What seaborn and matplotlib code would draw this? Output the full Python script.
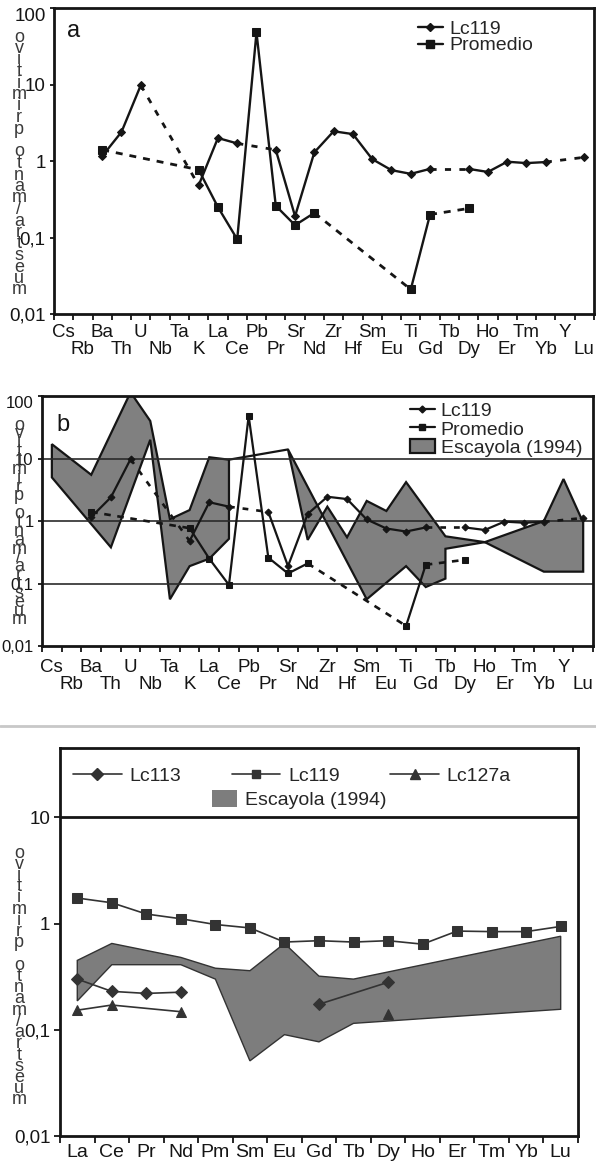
import numpy as np
import matplotlib
matplotlib.use('Agg')
import matplotlib.pyplot as plt
import seaborn as sns
from matplotlib.lines import Line2D
from matplotlib.patches import Patch
from matplotlib.ticker import NullLocator

nan = np.nan

# multielement diagram (a, b), normalised to primitive mantle
elements = ['Cs', 'Rb', 'Ba', 'Th', 'U', 'Nb', 'Ta', 'K', 'La', 'Ce', 'Pb', 'Pr', 'Sr', 'Nd',
            'Zr', 'Hf', 'Sm', 'Eu', 'Ti', 'Gd', 'Tb', 'Dy', 'Ho', 'Er', 'Tm', 'Yb', 'Y', 'Lu']
lc119 = [nan, nan, 1.16, 2.4, 9.8, nan, nan, 0.48, 2.0, 1.7, nan, 1.4, 0.19, 1.3,
         2.45, 2.25, 1.06, 0.76, 0.68, 0.79, nan, 0.79, 0.72, 0.98, 0.94, 0.97, nan, 1.12]
promedio = [nan, nan, 1.4, nan, nan, nan, nan, 0.77, 0.25, 0.095, 48, 0.26, 0.145, 0.21,
            nan, nan, nan, nan, 0.021, 0.2, nan, 0.24, nan, nan, nan, nan, nan, nan]

# Escayola (1994) field: outline vertices (element, value)
esc1_el = ['Cs', 'Ba', 'U', 'Nb', 'Ta', 'K', 'La', 'Ce', 'Ce', 'La', 'K', 'Ta', 'Nb', 'Th', 'Cs']
esc1_val = [17, 5.5, 115, 40, 1.07, 1.5, 10.5, 9.6, 0.52, 0.25, 0.19, 0.056, 20, 0.38, 5.0]
esc2_el = ['Sr', 'Nd', 'Zr', 'Hf', 'Sm', 'Eu', 'Ti', 'Tb', 'Ho', 'Yb', 'Y', 'Lu',
           'Lu', 'Yb', 'Ho', 'Tb', 'Tb', 'Gd', 'Ti', 'Sm', 'Sr']
esc2_val = [14, 0.5, 1.7, 0.55, 2.1, 1.45, 4.2, 0.57, 0.46, 1.0, 4.7, 0.95,
            0.155, 0.155, 0.46, 0.36, 0.12, 0.088, 0.19, 0.056, 14]
esc_link_el = ['Ce', 'Sr']
esc_link_val = [9.6, 14]

# REE diagram (c)
ree = ['La', 'Ce', 'Pr', 'Nd', 'Pm', 'Sm', 'Eu', 'Gd', 'Tb', 'Dy', 'Ho', 'Er', 'Tm', 'Yb', 'Lu']
lc119_ree_el = ['La', 'Ce', 'Pr', 'Nd', 'Pm', 'Sm', 'Eu', 'Gd', 'Tb', 'Dy', 'Ho', 'Er', 'Tm', 'Yb', 'Lu']
lc119_ree = [1.74, 1.57, 1.23, 1.11, 0.98, 0.91, 0.67, 0.69, 0.67, 0.69, 0.64, 0.85, 0.84, 0.84, 0.94]
lc113_el = [['La', 'Ce', 'Pr', 'Nd'], ['Gd', 'Dy']]
lc113_val = [[0.30, 0.23, 0.22, 0.226], [0.174, 0.28]]
lc127a_el = [['La', 'Ce', 'Nd'], ['Dy']]
lc127a_val = [[0.153, 0.171, 0.148], [0.14]]
esc_ree_el = ['La', 'Ce', 'Nd', 'Pm', 'Sm', 'Eu', 'Gd', 'Tb', 'Lu',
              'Lu', 'Tb', 'Gd', 'Eu', 'Sm', 'Pm', 'Nd', 'Ce', 'La']
esc_ree_val = [0.45, 0.65, 0.48, 0.38, 0.36, 0.65, 0.32, 0.30, 0.76,
               0.156, 0.115, 0.077, 0.09, 0.051, 0.30, 0.41, 0.41, 0.187]

ylabel = 'muestra/manto primitivo'

sns.set_theme(style='ticks')
plt.rcParams['font.family'] = ['Liberation Sans', 'DejaVu Sans']
plt.rcParams['axes.linewidth'] = 2

W, H = 596, 1167
ink = '#151515'
gray = '#808080'
pos = {e: i for i, e in enumerate(elements)}
rpos = {e: i for i, e in enumerate(ree)}


def draw_series(ax, vals, marker, ms, lw, dash):
    v = np.array(vals, dtype=float)
    x = np.arange(len(v))
    idx = np.where(~np.isnan(v))[0]
    runs = np.split(idx, np.where(np.diff(idx) > 1)[0] + 1)
    for r in runs:
        sns.lineplot(x=x[r], y=v[r], ax=ax, color=ink, lw=lw, marker=marker, markersize=ms,
                     markeredgecolor=ink, errorbar=None, zorder=4)
    # gaps bridged with a dashed line
    for r1, r2 in zip(runs[:-1], runs[1:]):
        ax.plot([r1[-1], r2[0]], [v[r1[-1]], v[r2[0]]], color=ink, lw=lw + 0.3,
                ls=dash, zorder=3)


def setup_ab(ax, pad, yfs):
    ax.set_yscale('log')
    ax.set_ylim(0.01, 100)
    ax.set_xlim(-0.5, len(elements) - 0.5)
    ax.set_yticks([0.01, 0.1, 1, 10, 100])
    ax.set_yticklabels(['0,01', '0,1', '1', '10', '100'], fontsize=yfs)
    ax.get_yticklabels()[-1].set_va('top')
    ax.yaxis.set_minor_locator(NullLocator())
    ax.set_xticks(range(len(elements)))
    ax.set_xticklabels([e if i % 2 == 0 else '\n' + e for i, e in enumerate(elements)],
                       fontsize=13.5, linespacing=1.05)
    ax.set_xticks(np.arange(-0.5, len(elements)), minor=True)
    ax.tick_params(axis='x', which='major', length=0, pad=pad, colors=ink)
    ax.tick_params(axis='x', which='minor', length=4, width=1.3, direction='out', color=ink)
    ax.tick_params(axis='y', length=3, width=1.3, direction='out', pad=3, colors=ink)
    for s in ax.spines.values():
        s.set_color(ink)
        s.set_linewidth(2)


def stacked_label(x_px, top_px, bot_px):
    # letters stacked from top to bottom, reading upwards
    for ch, y in zip(ylabel[::-1], np.linspace(top_px, bot_px, len(ylabel))):
        fig.text(x_px / W, 1 - y / H, ch, ha='center', va='center', fontsize=13,
                 color='#3a3a3a')


fig = plt.figure(figsize=(W / 100, H / 100), dpi=100)

# ---- panel a
ax_a = fig.add_axes([0.0906, 0.7309, 0.906, 0.2622])
setup_ab(ax_a, 7, 13.5)
draw_series(ax_a, lc119, 'D', 4.5, 1.7, (0, (2.2, 3)))
draw_series(ax_a, promedio, 's', 5.5, 1.7, (0, (2.5, 2.5)))
ax_a.text(0.025, 0.96, 'a', transform=ax_a.transAxes, fontsize=17, va='top', color=ink)
h_a = [Line2D([], [], color=ink, lw=1.7, marker='D', ms=4.5),
       Line2D([], [], color=ink, lw=1.7, marker='s', ms=5.5)]
ax_a.legend(h_a, ['Lc119', 'Promedio'], loc='upper right', bbox_to_anchor=(0.912, 1.005),
            frameon=False, fontsize=14, labelspacing=-0.05, handlelength=1.3,
            handletextpad=0.3, borderpad=0.2)

# ---- panel b
ax_b = fig.add_axes([0.0705, 0.4464, 0.9245, 0.2142])
setup_ab(ax_b, 9, 12)
ax_b.fill([pos[e] for e in esc1_el], esc1_val, facecolor=gray, edgecolor=ink, lw=1.6, zorder=1)
ax_b.fill([pos[e] for e in esc2_el], esc2_val, facecolor=gray, edgecolor=ink, lw=1.6, zorder=1)
ax_b.plot([pos[e] for e in esc_link_el], esc_link_val, color=ink, lw=1.6, zorder=1)
for g in [0.1, 1, 10]:
    ax_b.axhline(g, color='#2a2a2a', lw=1.2, zorder=2)
draw_series(ax_b, lc119, 'D', 3.5, 1.6, (0, (2.2, 3)))
draw_series(ax_b, promedio, 's', 5, 1.6, (0, (2.5, 2.5)))
ax_b.text(0.027, 0.93, 'b', transform=ax_b.transAxes, fontsize=17, va='top', color=ink)
h_b = [Line2D([], [], color=ink, lw=1.6, marker='D', ms=3.5),
       Line2D([], [], color=ink, lw=1.6, marker='s', ms=4),
       Patch(facecolor=gray, edgecolor=ink, lw=1.6)]
ax_b.legend(h_b, ['Lc119', 'Promedio', 'Escayola (1994)'], loc='upper right',
            bbox_to_anchor=(1.005, 1.03), frameon=False, fontsize=14, labelspacing=0.0,
            handlelength=1.3, handleheight=0.8, handletextpad=0.3, borderpad=0.2)

# ---- panel c
ax_c = fig.add_axes([0.1007, 0.02656, 0.869, 0.3325])
ax_c.set_yscale('log')
ax_c.set_ylim(0.01, 45)
ax_c.set_xlim(-0.5, len(ree) - 0.5)
ax_c.fill([rpos[e] for e in esc_ree_el], esc_ree_val, facecolor='#7d7d7d',
          edgecolor='#333333', lw=1.0, zorder=1)
lc_col = '#333333'
sns.lineplot(x=[rpos[e] for e in lc119_ree_el], y=lc119_ree, ax=ax_c, color=lc_col, lw=1.2,
             marker='s', markersize=6.5, markeredgecolor=lc_col, errorbar=None, zorder=3)
for els, vals in zip(lc113_el, lc113_val):
    sns.lineplot(x=[rpos[e] for e in els], y=vals, ax=ax_c, color=lc_col, lw=1.2,
                 marker='D', markersize=6, markeredgecolor=lc_col, errorbar=None, zorder=3)
for els, vals in zip(lc127a_el, lc127a_val):
    sns.lineplot(x=[rpos[e] for e in els], y=vals, ax=ax_c, color=lc_col, lw=1.2,
                 marker='^', markersize=7.5, markeredgecolor=lc_col, errorbar=None, zorder=3)
ax_c.axhline(10, color=ink, lw=2)
ax_c.set_yticks([0.01, 0.1, 1, 10])
ax_c.set_yticklabels(['0,01', '0,1', '1', '10'], fontsize=13.5)
ax_c.yaxis.set_minor_locator(NullLocator())
ax_c.set_xticks(range(len(ree)))
ax_c.set_xticklabels(ree, fontsize=14)
ax_c.set_xticks(np.arange(-0.5, len(ree)), minor=True)
ax_c.tick_params(axis='x', which='major', length=0, pad=6, colors=ink)
ax_c.tick_params(axis='x', which='minor', length=5, width=1.3, direction='out', color=ink)
ax_c.tick_params(axis='y', length=4, width=1.3, direction='out', pad=3, colors=ink)
for s in ax_c.spines.values():
    s.set_color(ink)
    s.set_linewidth(2)

h_c = [Line2D([], [], color=lc_col, lw=1.2, marker='D', ms=6),
       Line2D([], [], color=lc_col, lw=1.2, marker='s', ms=6),
       Line2D([], [], color=lc_col, lw=1.2, marker='^', ms=7)]
leg1 = ax_c.legend(h_c, ['Lc113', 'Lc119', 'Lc127a'], loc='upper left',
                   bbox_to_anchor=(-0.005, 0.99), ncol=3, frameon=False, fontsize=14,
                   handlelength=2.5, handletextpad=0.4, columnspacing=2.6, borderpad=0.3)
ax_c.add_artist(leg1)
ax_c.legend([Patch(facecolor='#7d7d7d', edgecolor='none')], ['Escayola (1994)'],
            loc='upper left', bbox_to_anchor=(0.275, 0.918), frameon=False, fontsize=14,
            handlelength=1.3, handleheight=1.0, handletextpad=0.4, borderpad=0.0)

# stacked y labels
stacked_label(19, 37, 290)
stacked_label(19, 425, 620)
stacked_label(19, 853, 1100)

# separator between the two figures
fig.add_artist(Line2D([0, 1], [0.378, 0.378], transform=fig.transFigure, color='#c8c8c8', lw=2))

fig.savefig('out.png', dpi=100)
